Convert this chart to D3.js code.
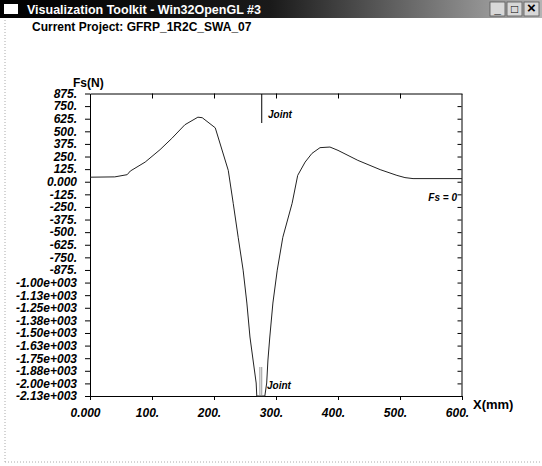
<!DOCTYPE html>
<html>
<head>
<meta charset="utf-8">
<script src="https://cdn.jsdelivr.net/npm/d3@7"></script>
<style>
  body { margin: 0; background: #fff; }
  svg { display: block; }
  .tick text { font-family: "Liberation Sans", Arial, sans-serif; font-weight: bold; font-style: italic; fill: #000; }
</style>
</head>
<body>
<svg id="chart" width="542" height="466"></svg>
<script>
// x position along the specimen (mm)
const xMm = [0, 40, 60, 65, 89, 113, 132, 153, 174, 181, 202, 223, 231, 239, 247, 253, 258, 263, 268, 269,
  282, 285, 287, 290, 295, 302, 311, 326, 335, 347, 358, 371, 387, 400, 432, 468, 495, 508, 521, 600];
// shear force Fs (N)
const fsN = [45, 48, 70, 106, 195, 318, 430, 565, 640, 635, 535, 113, -214, -551, -877, -1203, -1540, -1768, -1996, -2125,
  -2125, -1996, -1768, -1540, -1203, -877, -551, -214, 63, 195, 281, 338, 344, 311, 212, 120, 63, 41, 31, 31];

const xTicks = [0, 100, 200, 300, 400, 500, 600];
const xTickLabels = ["0.000", "100.", "200.", "300.", "400.", "500.", "600."];
const yTicks = [875, 750, 625, 500, 375, 250, 125, 0, -125, -250, -375, -500, -625, -750, -875,
  -1000, -1125, -1250, -1375, -1500, -1625, -1750, -1875, -2000, -2125];
const yTickLabels = ["875.", "750.", "625.", "500.", "375.", "250.", "125.", "0.000", "-125.", "-250.", "-375.",
  "-500.", "-625.", "-750.", "-875.", "-1.00e+003", "-1.13e+003", "-1.25e+003", "-1.38e+003", "-1.50e+003",
  "-1.63e+003", "-1.75e+003", "-1.88e+003", "-2.00e+003", "-2.13e+003"];
const jointTop = 277;
const jointBottom = [274, 277];

const svg = d3.select("#chart");
const font = '"Liberation Sans", Arial, sans-serif';

// window chrome
const grad = svg.append("defs").append("linearGradient").attr("id", "tb");
grad.append("stop").attr("offset", "0%").attr("stop-color", "#000");
grad.append("stop").attr("offset", "50%").attr("stop-color", "#1a1a1a");
grad.append("stop").attr("offset", "100%").attr("stop-color", "#b4b4b4");
svg.append("rect").attr("x", 0).attr("y", 0).attr("width", 542).attr("height", 18).attr("fill", "url(#tb)");
svg.append("rect").attr("x", 4).attr("y", 4).attr("width", 14).attr("height", 10).attr("fill", "#fff");
svg.append("text").attr("x", 27).attr("y", 13.5)
  .attr("font-family", font).attr("font-weight", "bold").attr("font-size", 12.5)
  .attr("fill", "#fff").text("Visualization Toolkit - Win32OpenGL #3");
["_", "\u25a1", "\u00d7"].forEach((s, i) => {
  const bx = 490 + i * 17;
  svg.append("rect").attr("x", bx).attr("y", 2).attr("width", 15).attr("height", 14)
    .attr("fill", "#d8d8d8").attr("stroke", "#555").attr("stroke-width", 0.8);
  svg.append("text").attr("x", bx + 7.5).attr("y", 13).attr("text-anchor", "middle")
    .attr("font-family", font).attr("font-weight", "bold").attr("font-size", i === 2 ? 15 : 12)
    .attr("fill", "#000").text(s);
});
svg.append("line").attr("x1", 5).attr("x2", 5).attr("y1", 20).attr("y2", 462)
  .attr("stroke", "#aaa").attr("stroke-dasharray", "1,2");
svg.append("line").attr("x1", 5).attr("x2", 542).attr("y1", 462).attr("y2", 462)
  .attr("stroke", "#aaa").attr("stroke-dasharray", "1,2");

svg.append("text").attr("x", 32).attr("y", 31)
  .attr("font-family", font).attr("font-weight", "bold").attr("font-size", 12)
  .text("Current Project: GFRP_1R2C_SWA_07");

const x = d3.scaleLinear().domain([0, 600]).range([90, 462]);
const y = d3.scaleLinear().domain([-2125, 875]).range([396, 93.5]);

// axes
const gl = svg.append("g").attr("transform", "translate(90,0)")
  .call(d3.axisLeft(y).tickValues(yTicks).tickSize(5).tickSizeOuter(0).tickPadding(8)
    .tickFormat((d, i) => yTickLabels[i]));
gl.selectAll(".tick text").attr("font-size", 12);

const gb = svg.append("g").attr("transform", "translate(0,396)")
  .call(d3.axisBottom(x).tickValues(xTicks).tickSize(4).tickSizeOuter(0).tickPadding(8)
    .tickFormat((d, i) => xTickLabels[i]));
gb.selectAll(".tick text").attr("font-size", 12).attr("dx", -5);

svg.append("g").attr("transform", "translate(0,93.5)")
  .call(d3.axisTop(x).tickValues(xTicks.slice(1, -1)).tickSize(-5).tickSizeOuter(0).tickFormat(""));
svg.append("g").attr("transform", "translate(461.5,0)")
  .call(d3.axisRight(y).tickValues(yTicks.slice(1, -1)).tickSize(-4).tickSizeOuter(0).tickFormat(""));

svg.selectAll(".domain, .tick line").attr("stroke", "#000").attr("stroke-width", 1);

// axis titles
svg.append("text").attr("x", 73).attr("y", 87)
  .attr("font-family", font).attr("font-weight", "bold").attr("font-size", 12).text("Fs(N)");
svg.append("text").attr("x", 473).attr("y", 409)
  .attr("font-family", font).attr("font-weight", "bold").attr("font-size", 13).text("X(mm)");

// curve
const pts = xMm.map((d, i) => [d, fsN[i]]);
svg.append("path").datum(pts)
  .attr("fill", "none").attr("stroke", "#222").attr("stroke-width", 1)
  .attr("d", d3.line().x(d => x(d[0])).y(d => y(d[1])));

// joint markers
svg.append("line").attr("x1", x(jointTop)).attr("x2", x(jointTop)).attr("y1", 94).attr("y2", 123)
  .attr("stroke", "#000");
svg.append("text").attr("x", 268).attr("y", 118)
  .attr("font-family", font).attr("font-weight", "bold").attr("font-style", "italic").attr("font-size", 10)
  .text("Joint");
jointBottom.forEach(j => {
  svg.append("line").attr("x1", x(j)).attr("x2", x(j)).attr("y1", 367).attr("y2", 395)
    .attr("stroke", "#999");
});
svg.append("text").attr("x", 267).attr("y", 389)
  .attr("font-family", font).attr("font-weight", "bold").attr("font-style", "italic").attr("font-size", 10)
  .text("Joint");

svg.append("text").attr("x", 457).attr("y", 201).attr("text-anchor", "end")
  .attr("font-family", font).attr("font-weight", "bold").attr("font-style", "italic").attr("font-size", 10)
  .text("Fs = 0");
</script>
</body>
</html>
